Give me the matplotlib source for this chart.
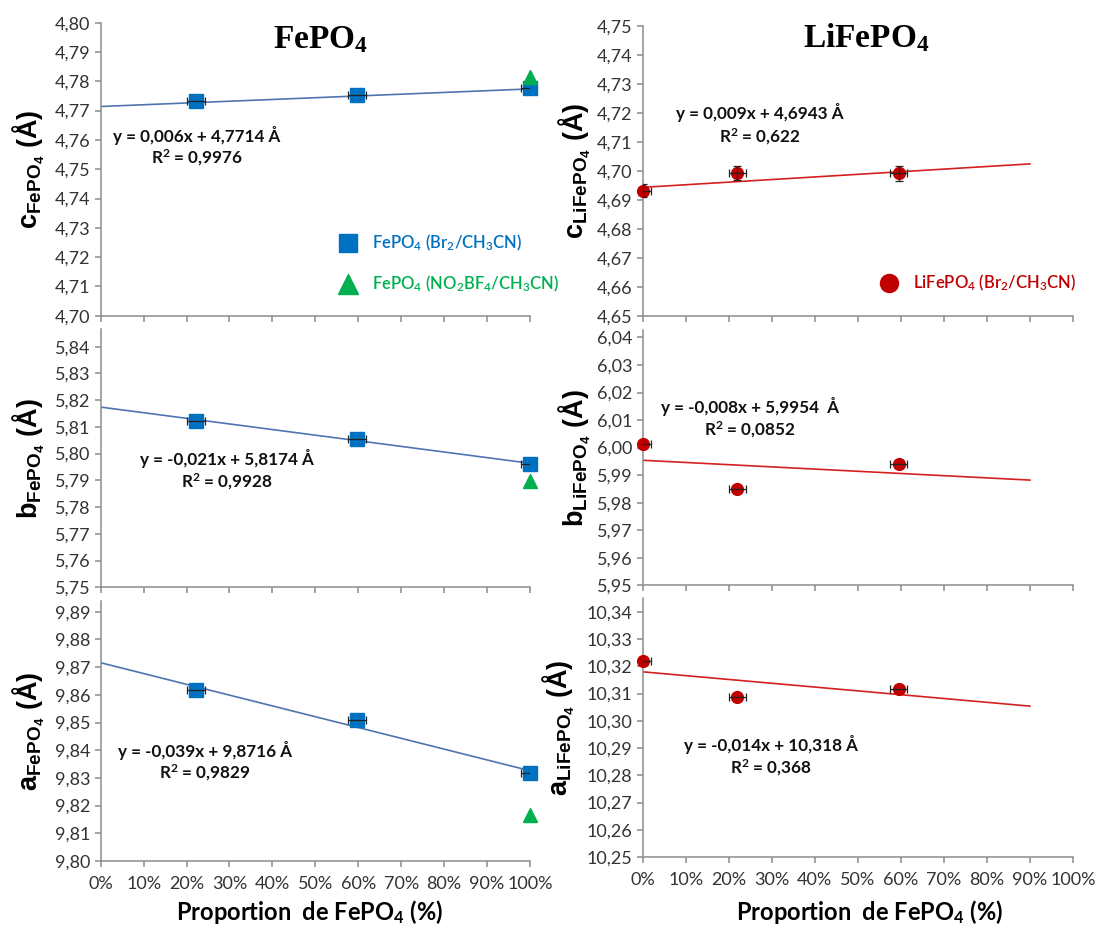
import matplotlib
matplotlib.use("Agg")
import matplotlib.pyplot as plt
from matplotlib.lines import Line2D
from matplotlib.ticker import FuncFormatter, MultipleLocator
import numpy as np

# données
x_fe = [0.222, 0.597, 1.0]
x_no2 = [1.0]
x_li = [0.0, 0.22, 0.595]

fe_c = [4.7732, 4.7753, 4.7778]
fe_b = [5.8122, 5.8055, 5.7961]
fe_a = [9.8618, 9.8510, 9.8319]
no2_c = [4.7813]
no2_b = [5.7899]
no2_a = [9.8167]
li_c = [4.6931, 4.6992, 4.6991]
li_b = [6.0012, 5.9850, 5.9942]
li_a = [10.3220, 10.3086, 10.3117]

x_err = 0.02
li_c_yerr = [0.0022, 0.0025, 0.0025]

# droites de tendance (pente, ordonnée à l'origine)
fe_slope = [0.006, -0.021, -0.039]
fe_icept = [4.7714, 5.8174, 9.8716]
li_slope = [0.009, -0.008, -0.014]
li_icept = [4.6943, 5.9954, 10.318]

fe_eq = ["y = 0,006x + 4,7714 Å", "y = -0,021x + 5,8174 Å", "y = -0,039x + 9,8716 Å"]
fe_r2 = ["R$^2$ = 0,9976", "R$^2$ = 0,9928", "R$^2$ = 0,9829"]
li_eq = ["y = 0,009x + 4,6943 Å", "y = -0,008x + 5,9954  Å", "y = -0,014x + 10,318 Å"]
li_r2 = ["R$^2$ = 0,622", "R$^2$ = 0,0852", "R$^2$ = 0,368"]

fe_ylims = [(4.70, 4.80), (5.75, 5.8465), (9.80, 9.894)]
li_ylims = [(4.65, 4.75), (5.95, 6.0427), (10.25, 10.345)]
fe_labels = ["c", "b", "a"]

BLUE = "#0070C0"
GREEN = "#00B050"
RED = "#C00000"
FE_LINE = "#4F74B0"
LI_LINE = "#D42020"
AXC = "#8C8C8C"

plt.rcParams["mathtext.default"] = "regular"
plt.rcParams["font.family"] = ["Lato", "DejaVu Sans"]

W, H = 1096, 925
fig = plt.figure(figsize=(W / 100, H / 100), dpi=100)


def rect(x0, x1, ytop, ybot):
    return [x0 / W, 1 - ybot / H, (x1 - x0) / W, (ybot - ytop) / H]


fe_rects = [rect(100.7, 530, 22.7, 315.7), rect(100.7, 530, 329.3, 587.3), rect(100.7, 530, 600.7, 861)]
li_rects = [rect(642.7, 1073, 26, 315.7), rect(642.7, 1073, 330, 585.3), rect(642.7, 1073, 598.3, 857)]
li_labx = [-0.116, -0.116, -0.152]

comma = FuncFormatter(lambda v, p: f"{v:.2f}".replace(".", ","))
pct = FuncFormatter(lambda v, p: f"{v * 100:.0f}%")


def style(ax, ylim, bottom, ylabel, labx, xlab_xy):
    for s in ["top", "right"]:
        ax.spines[s].set_visible(False)
    for s in ["left", "bottom"]:
        ax.spines[s].set_color(AXC)
        ax.spines[s].set_linewidth(1.1)
    ax.set_xlim(0, 1)
    ax.set_ylim(*ylim)
    ax.xaxis.set_major_locator(MultipleLocator(0.1))
    n = 11 if ylim[1] - ylim[0] > 0.099 else 10
    ax.set_yticks(np.arange(n) * 0.01 + ylim[0])
    ax.yaxis.set_major_formatter(comma)
    ax.xaxis.set_major_formatter(pct)
    ax.tick_params(direction="out", length=4.5, width=1.1, color=AXC,
                   labelsize=13, labelcolor="#333333", pad=3)
    ax.tick_params(axis="x", labelbottom=bottom, pad=6)
    ax.set_ylabel(ylabel, fontsize=19.5, fontweight="bold",
                  family=["Liberation Sans", "DejaVu Sans"])
    ax.yaxis.set_label_coords(labx, 0.5)
    if bottom:
        ax.set_xlabel("Proportion  de FePO$_4$ (%)", fontsize=17, fontweight="bold")
        ax.xaxis.set_label_coords(*xlab_xy)


def series(ax, x, y, color, marker, ms, yerr=None):
    ax.errorbar(x, y, xerr=x_err, yerr=yerr, fmt="none", ecolor="#222222",
                elinewidth=0.9, capsize=3, capthick=0.9, zorder=4)
    ax.plot(x, y, marker=marker, ls="none", color=color, ms=ms, clip_on=False, zorder=3)


axes = []
for i in range(3):
    ax = fig.add_axes(fe_rects[i])
    lab = fe_labels[i] + r"$_{\mathregular{FePO_4}}$ (Å)"
    style(ax, fe_ylims[i], i == 2, lab, -0.125, (0.4875, -0.142))
    xl = np.array([0.0, 1.0])
    ax.plot(xl, fe_icept[i] + fe_slope[i] * xl, color=FE_LINE, lw=1.2, zorder=2)
    series(ax, x_fe, [fe_c, fe_b, fe_a][i], BLUE, "s", 10)
    ax.plot(x_no2, [no2_c, no2_b, no2_a][i], marker="^", ls="none", color=GREEN,
            ms=10, clip_on=False, zorder=3)
    axes.append(ax)

for i in range(3):
    ax = fig.add_axes(li_rects[i])
    lab = fe_labels[i] + r"$_{\mathregular{LiFePO_4}}$ (Å)"
    style(ax, li_ylims[i], i == 2, lab, li_labx[i], (0.528, -0.158))
    xl = np.array([0.0, 0.9])
    ax.plot(xl, li_icept[i] + li_slope[i] * xl, color=LI_LINE, lw=1.2, zorder=2)
    series(ax, x_li, [li_c, li_b, li_a][i], RED, "o", 8.5,
           yerr=li_c_yerr if i == 0 else None)
    axes.append(ax)

# équations des droites
fe_eq_pos = [(197, 135, 158), (227, 458, 482), (205, 750, 773)]
li_eq_pos = [(760, 113, 137), (750, 407, 430), (771, 745, 768)]
for eqs, r2s, pos in [(fe_eq, fe_r2, fe_eq_pos), (li_eq, li_r2, li_eq_pos)]:
    for e, r, (xc, y1, y2) in zip(eqs, r2s, pos):
        fig.text(xc / W, 1 - y1 / H, e, ha="center", va="center", fontsize=12.3,
                 fontweight="bold", color="#111111")
        fig.text(xc / W, 1 - y2 / H, r, ha="center", va="center", fontsize=12.3,
                 fontweight="bold", color="#111111")

# titres
fig.text(321 / W, 1 - 40 / H, "FePO$_4$", ha="center", va="center", fontsize=24,
         fontweight="bold", family=["Liberation Serif", "DejaVu Serif"])
fig.text(866 / W, 1 - 38 / H, "LiFePO$_4$", ha="center", va="center", fontsize=24,
         fontweight="bold", family=["Liberation Serif", "DejaVu Serif"])

# légendes
h_fe = [Line2D([], [], marker="s", ls="none", color=BLUE, ms=13),
        Line2D([], [], marker="^", ls="none", color=GREEN, ms=14)]
axes[0].legend(h_fe, ["FePO$_4$ (Br$_2$/CH$_3$CN)", "FePO$_4$ (NO$_2$BF$_4$/CH$_3$CN)"],
               loc="center left", bbox_to_anchor=(340 / W, 1 - 263.5 / H),
               bbox_transform=fig.transFigure, frameon=False, handlelength=1.0,
               handletextpad=0.9, labelspacing=1.25, borderpad=0, borderaxespad=0,
               prop={"size": 12, "weight": "semibold"}, labelcolor=[BLUE, GREEN])
h_li = [Line2D([], [], marker="o", ls="none", color=RED, ms=13)]
axes[3].legend(h_li, ["LiFePO$_4$ (Br$_2$/CH$_3$CN)"],
               loc="center left", bbox_to_anchor=(881 / W, 1 - 283 / H),
               bbox_transform=fig.transFigure, frameon=False, handlelength=1.0,
               handletextpad=0.9, borderpad=0, borderaxespad=0,
               prop={"size": 12, "weight": "semibold"}, labelcolor=[RED])

fig.savefig("out.png", dpi=100)
